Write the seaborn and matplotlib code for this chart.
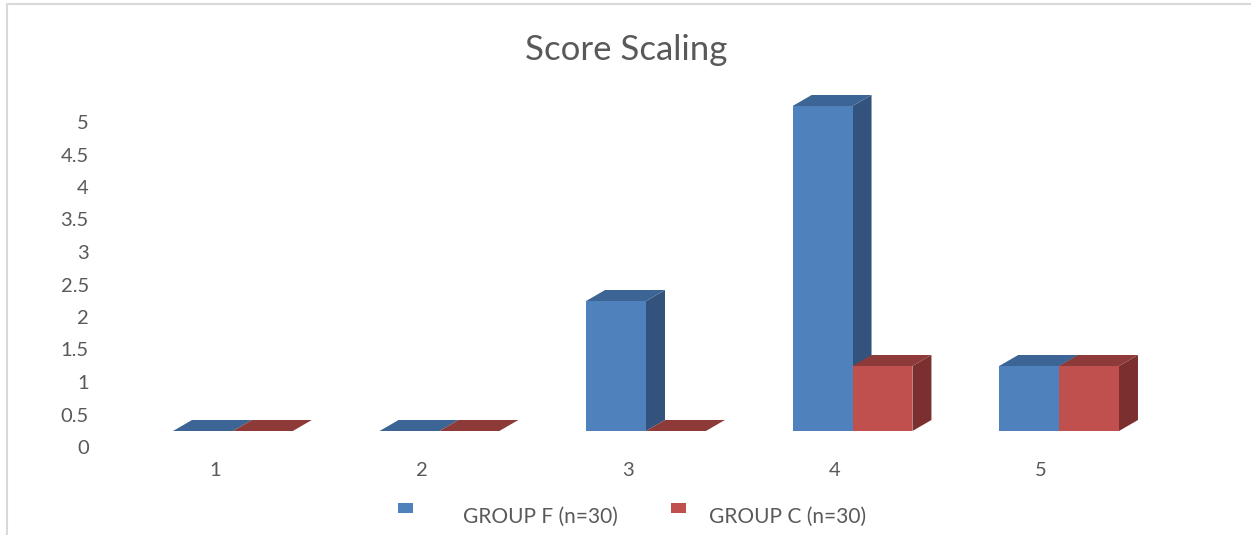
import matplotlib
matplotlib.use("Agg")
import matplotlib.pyplot as plt
import matplotlib.transforms as mtransforms
from matplotlib.patches import Polygon, Rectangle
from matplotlib.lines import Line2D
import seaborn as sns
import pandas as pd

# ---- data ----
categories = ["1", "2", "3", "4", "5"]
group_f = [0, 0, 2, 5, 1]
group_c = [0, 0, 0, 1, 1]
series_names = ["GROUP F (n=30)", "GROUP C (n=30)"]
y_ticks = [0, 0.5, 1, 1.5, 2, 2.5, 3, 3.5, 4, 4.5, 5]
y_tick_labels = ["0", "0.5", "1", "1.5", "2", "2.5", "3", "3.5", "4", "4.5", "5"]
title = "Score Scaling"

front_colors = ["#4F81BD", "#C0504D"]
top_colors = ["#3C6494", "#8E3A38"]
side_colors = ["#33537E", "#7B2F2E"]

df = pd.DataFrame({
    "cat": categories * 2,
    "val": group_f + group_c,
    "grp": [series_names[0]] * len(categories) + [series_names[1]] * len(categories),
})

sns.set_theme(style="white")
plt.rcParams["font.family"] = ["Lato", "DejaVu Sans"]

W, H = 1251, 535
fig = plt.figure(figsize=(W / 100, H / 100), dpi=100)
ax_l, ax_r, ax_b, ax_t = 109, 1183, 431, 93
ax = fig.add_axes([ax_l / W, (H - ax_b) / H, (ax_r - ax_l) / W, (ax_b - ax_t) / H])

sns.barplot(data=df, x="cat", y="val", hue="grp", palette=front_colors,
            width=0.58, gap=0, saturation=1, ax=ax, legend=False,
            err_kws={"linewidth": 0}, zorder=2)

ax.set_xlim(-0.6, 4.6)
ax.set_ylim(0, 5.2)
for s in ax.spines.values():
    s.set_visible(False)
ax.set_xlabel("")
ax.set_ylabel("")
ax.set_yticks(y_ticks)
ax.set_yticklabels(y_tick_labels)
ax.tick_params(axis="y", length=0, pad=14.5, labelsize=14.5, labelcolor="#595959")
ax.tick_params(axis="x", length=0, pad=22, labelsize=14.5, labelcolor="#595959")
ax.grid(False)

# offset tick labels like Excel's 3D wall labels
y_off = mtransforms.ScaledTranslation(0, -16 / 100, fig.dpi_scale_trans)
for lab in ax.get_yticklabels():
    lab.set_transform(lab.get_transform() + y_off)
x_off = mtransforms.ScaledTranslation(-18 / 100, 0, fig.dpi_scale_trans)
for lab in ax.get_xticklabels():
    lab.set_transform(lab.get_transform() + x_off)

# 3D faces derived from seaborn's bars
fig.canvas.draw()
dx, dy = 19, 11  # depth in pixels
ident = mtransforms.IdentityTransform()
for ci, cont in enumerate(ax.containers):
    for bar in cont:
        x0, y0 = bar.get_x(), bar.get_y()
        x1, y1 = x0 + bar.get_width(), y0 + bar.get_height()
        (px0, py0), (px1, py1) = ax.transData.transform([(x0, y0), (x1, y1)])
        z = 3 + ci
        side = Polygon([(px1, py0), (px1 + dx, py0 + dy), (px1 + dx, py1 + dy), (px1, py1)],
                       closed=True, transform=ident, facecolor=side_colors[ci],
                       edgecolor="none", zorder=z, clip_on=False)
        top = Polygon([(px0, py1), (px1, py1), (px1 + dx, py1 + dy), (px0 + dx, py1 + dy)],
                      closed=True, transform=ident, facecolor=top_colors[ci],
                      edgecolor="none", zorder=z, clip_on=False)
        bar.set_zorder(z)
        fig.add_artist(side)
        fig.add_artist(top)
        fig.add_artist(Rectangle((px0, py0), px1 - px0, py1 - py0, transform=ident,
                                 facecolor=front_colors[ci], edgecolor="none",
                                 zorder=z + 0.1, clip_on=False))

# title (clipped at the bottom like the reference)
t = fig.text(626 / W, 1 - 60 / H, title, ha="center", va="baseline",
             fontsize=25, color="#595959")
t.set_clip_box(mtransforms.Bbox.from_extents(0, H - 66, W, H))
t.set_clip_on(True)

# legend (Excel-style spacing)
leg_marker_x = [398, 671]
leg_text_x = [463, 709]
for i, name in enumerate(series_names):
    fig.add_artist(Rectangle((leg_marker_x[i] / W, 1 - 513 / H), 15 / W, 10 / H,
                             transform=fig.transFigure, facecolor=front_colors[i],
                             edgecolor="none"))
    fig.text(leg_text_x[i] / W, 1 - 523 / H, name, ha="left", va="baseline",
             fontsize=15, color="#595959")

# outer frame lines
fig.add_artist(Line2D([6.5 / W, 1], [1 - 3.5 / H, 1 - 3.5 / H], color="#D9D9D9", lw=1.5))
fig.add_artist(Line2D([6.5 / W, 6.5 / W], [0, 1 - 3.5 / H], color="#D9D9D9", lw=1.5))

fig.savefig("out.png", dpi=100)
